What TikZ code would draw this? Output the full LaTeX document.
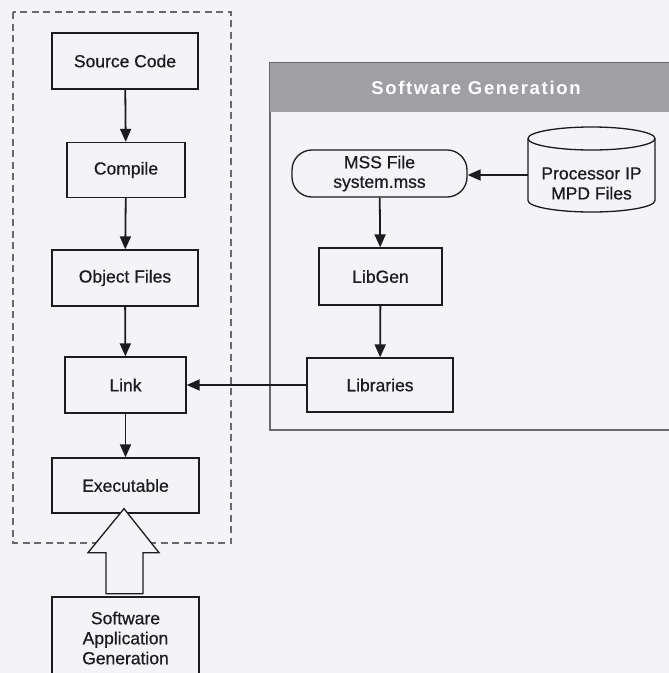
\documentclass[tikz,border=0pt]{standalone}
\usepackage{fontspec}
\setmainfont{Liberation Sans}
\usetikzlibrary{arrows.meta,calc}
\definecolor{paper}{RGB}{244,244,246}
\definecolor{ink}{RGB}{28,28,30}
\definecolor{band}{RGB}{160,160,164}
\definecolor{frame}{RGB}{105,105,110}
\newfontfamily\boxfont[FakeBold=0.6]{Liberation Sans}
\begin{document}
\begin{tikzpicture}[x=1pt,y=-1pt,
  box/.style={draw=ink,line width=1.3pt,inner sep=0pt,align=center,
    font=\boxfont\fontsize{17.5}{19.5}\selectfont,text=ink},
  flow/.style={draw=ink,line width=1.8pt,-{Triangle[length=13pt,width=11pt]}},
  txt/.style={inner sep=0pt,align=center,font=\boxfont\fontsize{17.5}{20}\selectfont,text=ink}]
\fill[paper] (0,0) rectangle (669,673);
\useasboundingbox (0,0) rectangle (669,673);
\clip (0,0) rectangle (669,673);

% build chain (left column)
\draw[frame,line width=1.1pt,dash pattern=on 7pt off 4.5pt] (13,12) rectangle (231,543);
\node[box,minimum width=146pt,minimum height=56pt] (src)  at (125,61)    {Source Code};
\node[box,minimum width=118pt,minimum height=55pt] (comp) at (126,170)   {Compile};
\node[box,minimum width=146pt,minimum height=56pt] (obj)  at (125,278)   {Object Files};
\node[box,minimum width=121pt,minimum height=56pt] (link) at (125.5,385) {Link};
\node[box,minimum width=147pt,minimum height=55pt] (exe)  at (125.5,485.5) {Executable};
\node[box,minimum width=147pt,minimum height=82pt,font=\boxfont\fontsize{17.5}{20}\selectfont] (sag) at (125.5,638)
  {Software\\Application\\Generation};

\draw[flow] (src)  -- (comp);
\draw[flow] (comp) -- (obj);
\draw[flow] (obj)  -- (link);
\draw[flow] (link) -- (exe);

% hollow block arrow from the application generator
\coordinate (tip) at ($(exe.south)+(-1.5,-5)$);
\draw[ink,line width=1.3pt,fill=paper,line join=miter]
  (tip) -- ++(-36,44) -- ++(18,0) -- ++(0,41) -- ++(37,0) -- ++(0,-41) -- ++(16,0) -- cycle;

% software generation panel
\draw[frame,line width=1.1pt,fill=paper] (270,63) rectangle (690,430);
\fill[band] (270,63) rectangle (690,112);
\node[inner sep=0pt,text=white,font=\fontsize{18.5}{20}\bfseries\selectfont\addfontfeature{LetterSpace=9}] (hdr) at (476,88) {Software Generation};

\node[box,rounded corners=20pt,minimum width=175pt,minimum height=47pt] (mss) at (379.5,173.5)
  {MSS File\\system.mss};
\node[box,minimum width=123pt,minimum height=57pt] (libgen) at (380.5,276.5) {LibGen};
\node[box,minimum width=146pt,minimum height=54pt] (libs) at (380,385) {Libraries};

% processor IP repository drawn as a cylinder
\draw[ink,line width=1.3pt] (591.5,138.5) ellipse[x radius=63.5,y radius=11.5];
\draw[ink,line width=1.3pt] (528,138.5) -- (528,200.5)
  arc[start angle=180,end angle=0,x radius=63.5,y radius=11.5] -- (655,138.5);
\node[txt] (proc) at (591.5,183.5) {Processor IP\\MPD Files};
\coordinate (cylw) at (528,175);

\draw[flow] (cylw) -- (cylw -| mss.east);
\draw[flow] (mss) -- (libgen);
\draw[flow] (libgen) -- (libs);
\draw[flow] (libs.west) -- (link.east);
\end{tikzpicture}
\end{document}
